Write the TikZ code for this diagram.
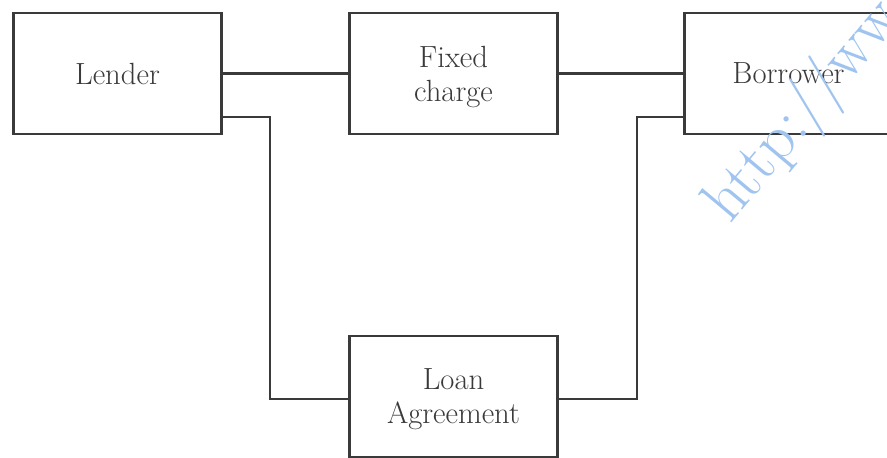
\documentclass[tikz,border=0pt]{standalone}
\usepackage{tikz}
\definecolor{ink}{HTML}{3A3A3A}
\definecolor{wm}{RGB}{160,196,240}
\begin{document}
\begin{tikzpicture}[x=0.75pt,y=-0.75pt,
  box/.style={draw=ink,line width=2pt,fill=white,minimum width=156pt,minimum height=90.75pt,
    inner sep=0pt,align=center,text=ink,font=\fontsize{23}{25.5}\selectfont},
  link/.style={draw=ink,line width=2pt}]
\useasboundingbox (0,0) rectangle (887,457);
\clip (0,0) rectangle (887,457);
\node[box] (lender) at (117.5,73.5) {Lender};
\node[box,text depth=0pt] (fixed) at (453.5,73.5) {Fixed\\charge};
\node[box] (borrower) at (788.5,73.5) {Borrower};
\node[box,text depth=0pt] (loan) at (453.5,396.5) {Loan\\Agreement};
\coordinate (lj) at (270,117);
\coordinate (lb) at (270,399);
\coordinate (rj) at (637,117);
\coordinate (rb) at (637,399);
\draw[link] (lender.east) -- (fixed.west);
\draw[link] (fixed.east) -- (borrower.west);
\draw[link] (lender.east |- lj) -- (lj) -- (lb) -- (loan.west |- lb);
\draw[link] (loan.east |- rb) -- (rb) -- (rj) -- (borrower.west |- rj);
\node[anchor=base west,rotate=50,text=wm,inner sep=0pt,font=\fontsize{48}{48}\selectfont] (wmark) at (730,225) {http://ww};
\end{tikzpicture}
\end{document}
